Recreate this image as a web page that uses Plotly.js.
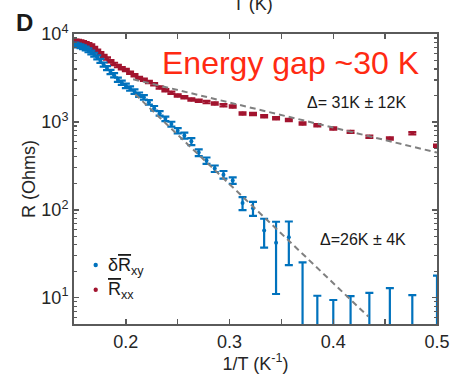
<!DOCTYPE html>
<html><head><meta charset="utf-8">
<script src="https://cdn.plot.ly/plotly-3.0.1.min.js"></script>
<style>html,body{margin:0;padding:0;background:#fff}</style>
</head><body><div id="chart" style="width:451px;height:374px"></div>
<script>
// Temperatures (K) of the measurement points
const temperatures = [2.0,2.1,2.2,2.3,2.4,2.5,2.6,2.7,2.8,2.9,3.0,3.1,3.2,3.3,3.4,3.5,3.6,3.7,3.8,3.9,
  4.0,4.1,4.2,4.3,4.4,4.5,4.6,4.7,4.8,4.9,5.0,5.1,5.2,5.3,5.4,5.5,5.6,5.7,5.8,5.9,6.0,6.1,6.2,6.3,6.4,6.5,6.6];
// R_xx (Ohms)
const rxxValues = [535,745,648,676,770,841,917,960,1050,1100,1160,1230,1245,1500,1550,1620,1680,1740,1800,1905,
  1995,2140,2290,2455,2690,2850,3020,3160,3390,3630,3890,4074,4315,4570,4900,5250,5620,6030,6460,6920,7410,7670,7850,8040,8220,8320,8400];
const rxxErrors = rxxValues.map(v => v * 0.03);
// delta R_xy (Ohms)
const dRxyValues = [1,1,1,1,1,1,1,1,48.5,42,58,104,119,215,251,294,363,447,600,700,
  794,944,1084,1250,1430,1670,1905,2040,2210,2400,2570,2790,3020,3400,3700,4100,4500,4950,5430,5820,6170,6530,6840,7080,7240,7410,7590];
const dRxyErrors = [16.8,9.7,11.8,10.3,9.4,8.4,9.5,24.2,25,31,21,19,20,18,25,25,30,40,55,55,
  55,60,65,75,85,100,110,120,130,140,150,160,170,190,200,220,240,260,280,300,310,330,340,350,360,370,380];
// Activation fits (straight lines on log scale)
const fitRxxX = [0.207, 0.5];
const fitRxxY = [3055, 447];
const fitRxyX = [0.209, 0.4337];
const fitRxyY = [2065, 6.1];
const xTickVals = [0.2, 0.3, 0.4, 0.5];
const xTickText = ['0.2', '0.3', '0.4', '0.5'];
const yTickVals = [10, 100, 1000, 10000];
const yTickText = ['10<sup>1</sup>', '10<sup>2</sup>', '10<sup>3</sup>', '10<sup>4</sup>'];

const invT = temperatures.map(t => 1 / t);
const blue = '#0072BD';
const red = '#A2142F';
const axisColor = '#5a5a5a';
const fontFam = 'Liberation Sans, Arial, sans-serif';

const traces = [
  {
    x: invT, y: rxxValues, type: 'scatter', mode: 'markers', name: 'Rxx',
    marker: {color: red, size: 4},
    error_y: {type: 'data', array: rxxErrors, visible: true, color: red, thickness: 2.2, width: 4}
  },
  {
    x: invT, y: dRxyValues, type: 'scatter', mode: 'markers', name: 'dRxy',
    marker: {color: blue, size: 4},
    error_y: {type: 'data', array: dRxyErrors, visible: true, color: blue, thickness: 2.2, width: 4}
  },
  {
    x: fitRxxX, y: fitRxxY, type: 'scatter', mode: 'lines',
    line: {color: '#808080', width: 2, dash: '6px,4px'}
  },
  {
    x: fitRxyX, y: fitRxyY, type: 'scatter', mode: 'lines',
    line: {color: '#808080', width: 2, dash: '6px,4px'}
  }
];

const layout = {
  width: 451, height: 374,
  margin: {l: 74, r: 14, t: 34, b: 50},
  paper_bgcolor: '#ffffff', plot_bgcolor: '#ffffff',
  showlegend: false,
  font: {family: fontFam, size: 18, color: '#262626'},
  xaxis: {
    range: [0.15, 0.5], tickmode: 'array', tickvals: xTickVals, ticktext: xTickText,
    ticks: 'inside', ticklen: 5, tickwidth: 1.5, tickcolor: axisColor,
    showline: true, linecolor: axisColor, linewidth: 2, mirror: 'ticks',
    showgrid: false, zeroline: false,
    minor: {ticks: 'inside', ticklen: 5, tickwidth: 1.5, tickcolor: axisColor, tick0: 0.15, dtick: 0.05, showgrid: false},
    tickfont: {size: 18, color: '#262626'},
    title: {text: '1/T (K<sup>-1</sup>)', font: {size: 18, color: '#262626'}, standoff: 6}
  },
  yaxis: {
    type: 'log', range: [0.7, 4], tickmode: 'array', tickvals: yTickVals, ticktext: yTickText,
    ticks: 'inside', ticklen: 5, tickwidth: 1.5, tickcolor: axisColor,
    showline: true, linecolor: axisColor, linewidth: 2, mirror: 'ticks',
    showgrid: false, zeroline: false,
    minor: {ticks: 'inside', ticklen: 3, tickwidth: 1.2, tickcolor: axisColor, dtick: 'D1', showgrid: false},
    tickfont: {size: 18, color: '#262626'},
    title: {text: 'R (Ohms)', font: {size: 18, color: '#262626'}, standoff: 1}
  },
  annotations: [
    {xref: 'paper', yref: 'paper', x: 0.596, y: 0.9, xanchor: 'center', yanchor: 'middle', showarrow: false,
     text: 'Energy gap ~30 K', font: {family: fontFam, size: 32, color: '#ff2a12'}},
    {xref: 'paper', yref: 'paper', x: 0.778, y: 0.764, xanchor: 'center', yanchor: 'middle', showarrow: false,
     text: 'Δ= 31K ± 12K', font: {family: fontFam, size: 16, color: '#1a1a1a'}},
    {xref: 'paper', yref: 'paper', x: 0.795, y: 0.291, xanchor: 'center', yanchor: 'middle', showarrow: false,
     text: 'Δ=26K ± 4K', font: {family: fontFam, size: 16, color: '#1a1a1a'}},
    {xref: 'paper', yref: 'paper', x: 0.088, y: 0.2, xanchor: 'left', yanchor: 'middle', showarrow: false,
     text: 'δ<span style="text-decoration:overline">R</span><sub>xy</sub>', font: {family: fontFam, size: 18, color: '#1a1a1a'}},
    {xref: 'paper', yref: 'paper', x: 0.088, y: 0.115, xanchor: 'left', yanchor: 'middle', showarrow: false,
     text: '<span style="text-decoration:overline">R</span><sub>xx</sub>', font: {family: fontFam, size: 18, color: '#1a1a1a'}},
    {xref: 'paper', yref: 'paper', x: -0.136, y: 1.04, xanchor: 'center', yanchor: 'middle', showarrow: false,
     text: '<b>D</b>', font: {family: fontFam, size: 24, color: '#1a1a1a'}},
    {xref: 'paper', yref: 'paper', x: 0.493, y: 1.105, xanchor: 'center', yanchor: 'middle', showarrow: false,
     text: 'T (K)', font: {family: fontFam, size: 18, color: '#262626'}}
  ],
  shapes: [
    {type: 'circle', xref: 'paper', yref: 'paper', x0: 0.0538, x1: 0.0658, y0: 0.1958, y1: 0.2110,
     fillcolor: blue, line: {width: 0}},
    {type: 'circle', xref: 'paper', yref: 'paper', x0: 0.0538, x1: 0.0658, y0: 0.1107, y1: 0.1259,
     fillcolor: red, line: {width: 0}}
  ]
};

Plotly.newPlot('chart', traces, layout, {displayModeBar: false, staticPlot: true});
</script>
</body></html>
